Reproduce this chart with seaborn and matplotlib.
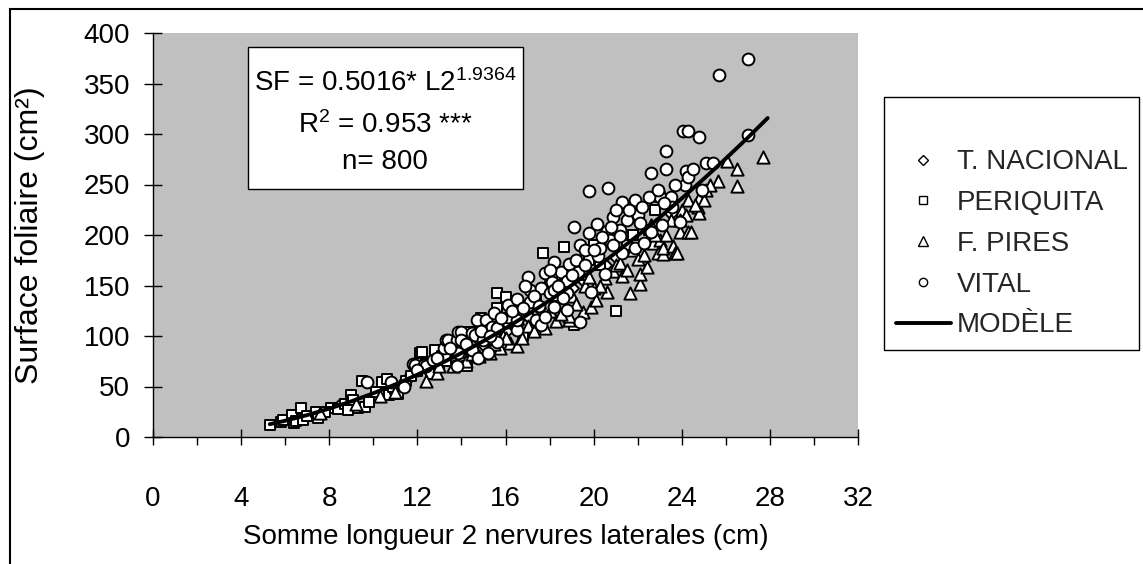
import matplotlib
matplotlib.use("Agg")
import matplotlib.pyplot as plt
import seaborn as sns
from matplotlib.lines import Line2D
from matplotlib.patches import Rectangle

# ---------------- data ----------------
series_names = ["T. NACIONAL", "PERIQUITA", "F. PIRES", "VITAL"]
model_label = "MODÈLE"

tn_x = [8.5, 10.5, 11.5, 12.5, 13.5, 14.5, 15.0, 15.5, 16.0, 16.5, 17.0, 17.5, 18.5, 19.0, 19.5, 20.5, 21.0, 21.5, 22.5, 23.5]
tn_y = [32, 46, 56, 66, 78, 90, 92, 100, 105, 112, 120, 128, 140, 148, 155, 170, 178, 188, 205, 222]

per_x = [5.3, 5.8, 5.9, 6.3, 6.4, 6.5, 6.7, 6.8, 7.0, 7.4, 7.5, 8.1, 8.4, 8.7, 8.85, 9.0, 9.3, 9.5, 9.6, 9.8,
         10.1, 10.4, 10.6, 10.7, 11.0, 11.1, 11.5, 12.0, 12.1, 12.2, 12.4, 12.6, 12.8, 13.0, 13.3, 13.5, 14.0, 14.25, 14.4, 14.9,
         15.6, 15.6, 16.0, 16.4, 16.8, 17.0, 17.7, 18.0, 18.2, 18.65, 19.1, 19.5, 20.0, 20.3, 21.0, 21.5, 22.5, 22.8, 23.0,
         7.8, 9.1, 10.9, 11.7, 13.1, 13.8, 15.1, 16.6, 17.4, 18.4, 19.8, 21.8]
per_y = [12, 15, 17, 22, 14, 16, 29, 17, 21, 25, 19, 29, 28, 33, 27, 42, 29, 55, 30, 35,
         45, 54, 57, 42, 48, 43, 55, 65, 83, 84, 72, 62, 86, 70, 75, 95, 88, 70, 104, 118,
         143, 128, 139, 115, 100, 128, 182, 150, 140, 188, 111, 160, 190, 170, 125, 190, 205, 225, 238,
         25, 37, 50, 60, 80, 85, 105, 120, 135, 160, 175, 200]

fp_x = [7.6, 9.2, 10.3, 11.0, 12.4, 12.9, 13.6, 14.0, 14.2, 14.8, 15.3, 15.75, 15.9, 16.2, 16.5, 16.75, 17.0, 17.3, 17.8, 18.0,
        18.3, 18.9, 18.9, 19.0, 19.5, 19.6, 19.9, 20.0, 20.1, 20.5, 20.6, 20.9, 21.0, 21.3, 21.65, 21.8, 22.0, 22.1, 22.1, 22.4,
        22.6, 22.7, 22.9, 23.0, 23.15, 23.15, 23.3, 23.5, 23.6, 23.7, 23.8, 23.9, 24.0, 24.2, 24.3, 24.3, 24.4, 24.75, 24.8, 24.8,
        25.0, 25.1, 25.65, 26.05, 26.5, 26.5, 27.7,
        13.0, 14.5, 15.5, 16.0, 17.5, 18.5, 19.2, 19.8, 20.3, 21.2, 21.5, 22.3, 22.8, 23.9, 24.6, 25.3]
fp_y = [24, 33, 41, 45, 55, 63, 70, 85, 75, 80, 83, 88, 100, 93, 90, 98, 110, 105, 108, 125,
        115, 116, 120, 140, 124, 150, 129, 148, 136, 157, 144, 164, 170, 159, 143, 185, 176, 151, 161, 168,
        210, 192, 182, 195, 181, 187, 200, 215, 189, 182, 182, 203, 225, 220, 203, 235, 203, 228, 222, 237,
        235, 245, 253, 273, 265, 249, 277,
        70, 82, 92, 98, 115, 122, 132, 158, 150, 172, 165, 180, 200, 215, 230, 250]

vit_x = [9.7, 10.8, 11.4, 11.8, 11.9, 12.3, 12.4, 12.7, 13.2, 13.2, 13.3, 13.4, 13.8, 13.8, 13.85, 13.85, 14.0, 14.0, 14.5, 14.5,
         14.6, 14.7, 14.75, 15.0, 15.1, 15.2, 15.2, 15.4, 15.5, 15.6, 15.6, 16.1, 16.1, 16.1, 16.5, 16.5, 16.5, 17.0, 17.1, 17.1,
         17.4, 17.6, 17.6, 17.8, 17.8, 18.0, 18.1, 18.2, 18.2, 18.2, 18.5, 18.8, 18.8, 18.8, 18.9, 19.1, 19.3, 19.4, 19.4, 19.8,
         19.8, 19.9, 20.15, 20.2, 20.3, 20.5, 20.6, 20.65, 20.75, 20.9, 21.2, 21.2, 21.3, 21.3, 21.5, 21.9, 21.9, 22.0, 22.1, 22.3,
         22.6, 22.6, 23.0, 23.1, 23.3, 23.3, 23.5, 23.55, 23.9, 24.06, 24.15, 24.2, 24.3, 24.3, 24.5, 24.8, 24.9, 25.1, 25.4, 25.7,
         27.0, 27.0,
         12.0, 12.9, 13.5, 14.2, 14.9, 15.3, 15.8, 16.3, 16.8, 16.9, 17.3, 17.5, 18.0, 18.4, 18.6, 19.0, 19.2, 19.6, 19.6, 20.0,
         20.4, 20.8, 20.9, 21.0, 21.6, 22.2, 22.5, 22.9, 23.2, 23.7]
vit_y = [54, 54, 50, 72, 71, 71, 70, 76, 81, 88, 96, 96, 96, 70, 83, 104, 104, 96, 86, 103,
         101, 116, 78, 96, 116, 83, 106, 109, 123, 94, 108, 114, 119, 131, 106, 116, 137, 158, 134, 146,
         116, 111, 148, 119, 162, 143, 153, 129, 146, 173, 163, 126, 143, 154, 171, 208, 163, 114, 190, 202,
         244, 144, 211, 179, 187, 161, 204, 247, 195, 218, 205, 199, 182, 233, 215, 187, 235, 220, 212, 192,
         203, 261, 238, 210, 265, 283, 238, 228, 213, 303, 250, 263, 257, 303, 265, 297, 245, 271, 271, 358,
         374, 299,
         66, 78, 88, 92, 105, 100, 118, 125, 128, 150, 140, 130, 165, 150, 138, 160, 175, 170, 185, 185,
         198, 208, 190, 225, 225, 228, 238, 245, 232, 250]

model_x = [5.3, 6, 7, 8, 9, 10, 11, 12, 13, 14, 15, 16, 17, 18, 19, 20, 21, 22, 23, 24, 25, 26, 27, 27.9]
model_y = [12.7, 16.1, 21.7, 28.1, 35.3, 43.3, 52.1, 61.7, 72.0, 83.1, 95.0, 107.6, 121.1, 135.2, 150.2,
           165.9, 182.3, 199.5, 217.4, 236.2, 255.6, 275.7, 296.4, 315.8]

x_ticks = [0, 4, 8, 12, 16, 20, 24, 28, 32]
x_minor = [2, 6, 10, 14, 18, 22, 26, 30]
y_ticks = [0, 50, 100, 150, 200, 250, 300, 350, 400]

eq_lines = [r"SF = 0.5016* L2$^{\mathrm{1.9364}}$", r"R$^{\mathrm{2}}$ = 0.953 ***", "n= 800"]
x_label = "Somme longueur 2 nervures laterales (cm)"
y_label = "Surface foliaire (cm²)"

# ---------------- style ----------------
sns.set_style("ticks")
plt.rcParams['font.family'] = ['Liberation Sans', 'DejaVu Sans']
plt.rcParams['mathtext.fontset'] = 'custom'
plt.rcParams['mathtext.rm'] = 'Liberation Sans'
plt.rcParams['mathtext.it'] = 'Liberation Sans:italic'
plt.rcParams['mathtext.bf'] = 'Liberation Sans:bold'

W, H = 1143, 564
fig = plt.figure(figsize=(W / 100, H / 100), dpi=100)
fig.patch.set_facecolor('white')
ax = fig.add_axes([153 / W, 1 - 437 / H, 705 / W, 404 / H])
ax.set_facecolor('#C0C0C0')

common = dict(color='white', edgecolor='black', linewidth=1.4, ax=ax, legend=False)
sns.scatterplot(x=tn_x, y=tn_y, marker='D', s=45, zorder=2, **common)
sns.scatterplot(x=per_x, y=per_y, marker='s', s=58, zorder=3, **common)
sns.scatterplot(x=fp_x, y=fp_y, marker='^', s=78, zorder=4, **common)
sns.scatterplot(x=vit_x, y=vit_y, marker='o', s=72, zorder=5, **common)
sns.lineplot(x=model_x, y=model_y, color='black', linewidth=2.8, sort=False, estimator=None,
             ax=ax, zorder=6, legend=False)

ax.set_xlim(0, 32)
ax.set_ylim(0, 400)
ax.set_xticks(x_ticks)
ax.set_xticks(x_minor, minor=True)
ax.set_yticks(y_ticks)
for s in ['top', 'right']:
    ax.spines[s].set_visible(False)
for s in ['left', 'bottom']:
    ax.spines[s].set_color('black')
    ax.spines[s].set_linewidth(1.0)
ax.tick_params(axis='x', which='major', direction='inout', length=12, width=1, pad=29,
               labelsize=20, colors='black')
ax.tick_params(axis='x', which='minor', direction='out', length=6, width=1, colors='black')
ax.tick_params(axis='y', which='major', direction='inout', length=13, width=1, pad=10,
               labelsize=20, colors='black')

ax.set_xlabel(x_label, fontsize=20, color='black')
ax.xaxis.set_label_coords(0.5, -0.215)
ax.set_ylabel('')
fig.text(30 / W, 1 - 235 / H, y_label, rotation=90, ha='center', va='center', fontsize=23, color='black')

# equation box
fig.patches.append(Rectangle((248 / W, 1 - 189 / H), 275 / W, 142 / H, transform=fig.transFigure,
                             facecolor='white', edgecolor='black', linewidth=1.0, zorder=1))
for txt, yc in zip(eq_lines, [83, 125, 162]):
    fig.text(385 / W, 1 - yc / H, txt, ha='center', va='center', fontsize=20, color='black', zorder=3)

# outer border
fig.patches.append(Rectangle((10 / W, -0.5), 2.0, 1.5 - 9 / H, transform=fig.transFigure,
                             fill=False, edgecolor='black', linewidth=1.5, zorder=0))

# legend
mk = dict(ls='', mfc='white', mec='black', mew=1.0)
handles = [Line2D([], [], ls='', marker=''),
           Line2D([], [], marker='D', ms=5, **mk),
           Line2D([], [], marker='s', ms=6, **mk),
           Line2D([], [], marker='^', ms=7, **mk),
           Line2D([], [], marker='o', ms=6, **mk),
           Line2D([], [], color='black', lw=2.8)]
labels = [' '] + series_names + [model_label]
leg = fig.legend(handles, labels, loc='upper left', bbox_to_anchor=(884 / W, 1 - 97 / H),
                 bbox_transform=fig.transFigure, frameon=True, fancybox=False, framealpha=1,
                 edgecolor='black', fontsize=20, borderpad=0.42, labelspacing=0.53,
                 handlelength=2.0, handletextpad=0.2, borderaxespad=0)
leg.get_frame().set_linewidth(1.0)

fig.savefig('out.png', dpi=100)
